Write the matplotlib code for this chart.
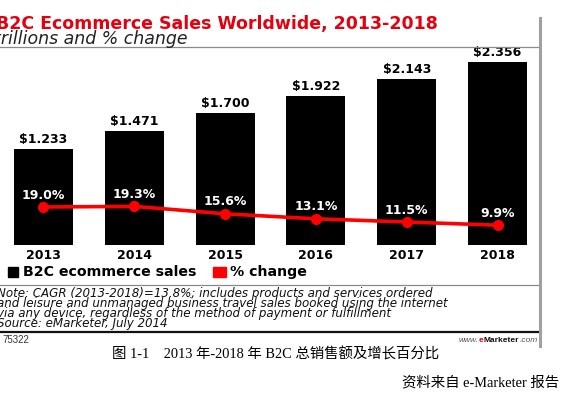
import matplotlib
matplotlib.use("Agg")
import matplotlib.pyplot as plt
from matplotlib.lines import Line2D
from matplotlib.patches import Rectangle

years = ["2013", "2014", "2015", "2016", "2017", "2018"]
sales = [1.233, 1.471, 1.700, 1.922, 2.143, 2.356]
pct_change = [19.0, 19.3, 15.6, 13.1, 11.5, 9.9]

title = "B2C Ecommerce Sales Worldwide, 2013-2018"
subtitle = "trillions and % change"
legend_labels = ["B2C ecommerce sales", "% change"]
note_lines = [
    "Note: CAGR (2013-2018)=13.8%; includes products and services ordered",
    "and leisure and unmanaged business travel sales booked using the internet",
    "via any device, regardless of the method of payment or fulfillment",
    "Source: eMarketer, July 2014",
]
chart_id = "75322"
caption = "图 1-1    2013 年-2018 年 B2C 总销售额及增长百分比"
source_cn = "资料来自 e-Marketer 报告"

W, H = 565, 394
RED = "#ff0000"
TITLE_RED = "#e3000f"


def fx(x):
    return x / W


def fy(y):
    return 1 - y / H


fig = plt.figure(figsize=(W / 100, H / 100), dpi=100)

# bars: baseline at y=245px, top of axes at y=47px
ax = fig.add_axes([0, fy(245), fx(539), (245 - 47) / H])
x = list(range(len(years)))
ax.bar(x, sales, width=0.65, color="black", zorder=2)
ax.set_xlim(-0.479, 5.457)
ax.set_ylim(0, 2.549)
for xi, v in zip(x, sales):
    ax.annotate(f"${v:.3f}", (xi, v), xytext=(0, 2), textcoords="offset points",
                ha="center", va="bottom", fontsize=9, fontweight="bold")
ax.set_xticks(x)
ax.set_xticklabels(years, fontsize=9, fontweight="bold")
ax.tick_params(axis="x", length=0, pad=3)
ax.set_yticks([])
for s in ax.spines.values():
    s.set_visible(False)
ax.patch.set_alpha(0)

# % change line on its own scale (0 at baseline, 2px per %)
ax2 = ax.twinx()
ax2.set_ylim(0, 99)
ax2.plot(x, pct_change, color=RED, lw=2.6, marker="o", ms=7, zorder=3)
for xi, p in zip(x, pct_change):
    ax2.annotate(f"{p:.1f}%", (xi, p), xytext=(0, 8.5), textcoords="offset points",
                 ha="center", va="center", fontsize=9, fontweight="bold", color="white")
ax2.set_yticks([])
for s in ax2.spines.values():
    s.set_visible(False)

# header
fig.text(fx(-4), fy(24), title, fontsize=12.5, fontweight="bold", color=TITLE_RED,
         ha="left", va="center")
fig.text(fx(-6), fy(38.5), subtitle, fontsize=12.5, style="italic", color="#222222",
         ha="left", va="center")

# frame lines
fig.add_artist(Line2D([0, fx(539)], [fy(47), fy(47)], color="#8a8a8a", lw=0.9))
fig.add_artist(Line2D([0, fx(539)], [fy(285), fy(285)], color="#8a8a8a", lw=0.9))
fig.add_artist(Line2D([0, fx(539)], [fy(332), fy(332)], color="#111111", lw=1.6))
fig.add_artist(Line2D([fx(540), fx(540)], [fy(18), fy(346)], color="#a0a0a0", lw=2.2))

# legend
fig.add_artist(Rectangle((fx(8), fy(277)), fx(10), 10 / H, color="black",
                         transform=fig.transFigure))
fig.text(fx(23), fy(272), legend_labels[0], fontsize=10.2, fontweight="bold",
         ha="left", va="center")
fig.add_artist(Rectangle((fx(213), fy(277)), fx(13), 10 / H, color=RED,
                         transform=fig.transFigure))
fig.text(fx(230), fy(272), legend_labels[1], fontsize=10.2, fontweight="bold",
         ha="left", va="center")

# notes
for i, line in enumerate(note_lines):
    fig.text(fx(-3), fy(294 + i * 10), line, fontsize=8.6, style="italic",
             color="#111111", ha="left", va="center")

fig.text(fx(2), fy(340), chart_id, fontsize=7, family="Liberation Sans",
         color="#333333", ha="left", va="center")

# www.eMarketer.com in pieces, right edge at 538px
renderer = fig.canvas.get_renderer()
pieces = [("www.", "#555555", "normal", "italic"), ("e", TITLE_RED, "bold", "normal"),
          ("Marketer", "#111111", "bold", "normal"), (".com", "#555555", "normal", "italic")]
texts = []
total = 0
gap = 0.3
for txt, col, wt, st in pieces:
    t = fig.text(0, fy(340), txt, fontsize=6, family="Liberation Sans", color=col,
                 fontweight=wt, style=st, ha="left", va="center")
    w = t.get_window_extent(renderer).width + gap
    texts.append((t, w))
    total += w
cur = 538 - total
for t, w in texts:
    t.set_x(fx(cur))
    cur += w

# Chinese caption and source
cjk = ["Liberation Serif", "Noto Sans CJK SC"]
fig.text(fx(276), fy(354), caption, fontsize=10.4, family=cjk, ha="center", va="center")
fig.text(fx(559), fy(383), source_cn, fontsize=10.4, family=cjk, ha="right", va="center")

fig.savefig("out.png", dpi=100)
